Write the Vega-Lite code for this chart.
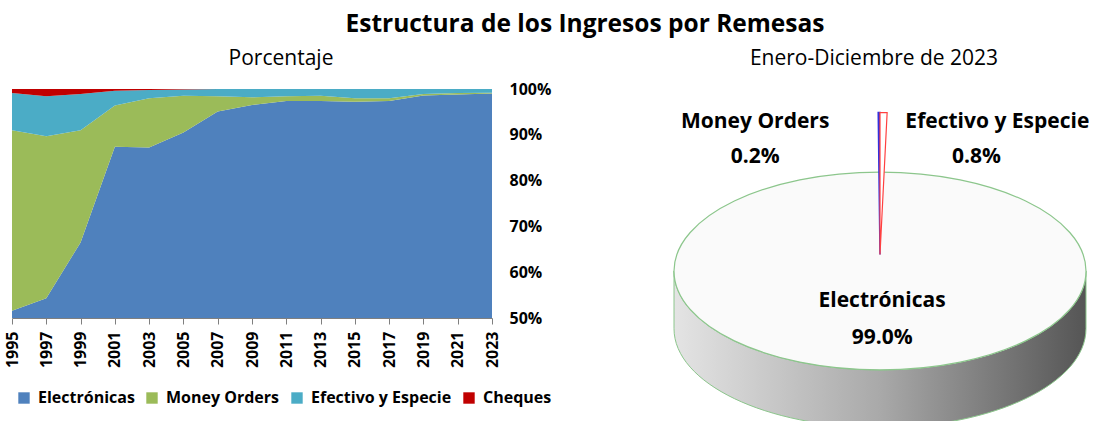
{
  "$schema": "https://vega.github.io/schema/vega-lite/v6.json",
  "background": "white",
  "padding": {"left": 4, "top": 11, "right": 4, "bottom": 0},
  "config": {"font": "Open Sans", "view": {"stroke": null}},
  "title": {"text": "Estructura de los Ingresos por Remesas", "fontSize": 24.5, "fontWeight": "bold", "color": "black", "anchor": "middle", "dx": 38, "offset": 11},
  "spacing": 114,
  "resolve": {"scale": {"color": "independent"}, "legend": {"color": "independent"}},
  "datasets": {
    "serie": [
      {"anio": 1995, "tipo": "Electrónicas", "pct": 51.6}, {"anio": 1995, "tipo": "Money Orders", "pct": 39.4}, {"anio": 1995, "tipo": "Efectivo y Especie", "pct": 8.1}, {"anio": 1995, "tipo": "Cheques", "pct": 0.9},
      {"anio": 1997, "tipo": "Electrónicas", "pct": 54.3}, {"anio": 1997, "tipo": "Money Orders", "pct": 35.4}, {"anio": 1997, "tipo": "Efectivo y Especie", "pct": 8.7}, {"anio": 1997, "tipo": "Cheques", "pct": 1.6},
      {"anio": 1999, "tipo": "Electrónicas", "pct": 66.5}, {"anio": 1999, "tipo": "Money Orders", "pct": 24.5}, {"anio": 1999, "tipo": "Efectivo y Especie", "pct": 7.9}, {"anio": 1999, "tipo": "Cheques", "pct": 1.1},
      {"anio": 2001, "tipo": "Electrónicas", "pct": 87.4}, {"anio": 2001, "tipo": "Money Orders", "pct": 9.0}, {"anio": 2001, "tipo": "Efectivo y Especie", "pct": 3.2}, {"anio": 2001, "tipo": "Cheques", "pct": 0.4},
      {"anio": 2003, "tipo": "Electrónicas", "pct": 87.2}, {"anio": 2003, "tipo": "Money Orders", "pct": 10.8}, {"anio": 2003, "tipo": "Efectivo y Especie", "pct": 1.8}, {"anio": 2003, "tipo": "Cheques", "pct": 0.2},
      {"anio": 2005, "tipo": "Electrónicas", "pct": 90.5}, {"anio": 2005, "tipo": "Money Orders", "pct": 8.0}, {"anio": 2005, "tipo": "Efectivo y Especie", "pct": 1.4}, {"anio": 2005, "tipo": "Cheques", "pct": 0.1},
      {"anio": 2007, "tipo": "Electrónicas", "pct": 95.1}, {"anio": 2007, "tipo": "Money Orders", "pct": 3.3}, {"anio": 2007, "tipo": "Efectivo y Especie", "pct": 1.6}, {"anio": 2007, "tipo": "Cheques", "pct": 0.0},
      {"anio": 2009, "tipo": "Electrónicas", "pct": 96.5}, {"anio": 2009, "tipo": "Money Orders", "pct": 1.7}, {"anio": 2009, "tipo": "Efectivo y Especie", "pct": 1.8}, {"anio": 2009, "tipo": "Cheques", "pct": 0.0},
      {"anio": 2011, "tipo": "Electrónicas", "pct": 97.4}, {"anio": 2011, "tipo": "Money Orders", "pct": 1.0}, {"anio": 2011, "tipo": "Efectivo y Especie", "pct": 1.6}, {"anio": 2011, "tipo": "Cheques", "pct": 0.0},
      {"anio": 2013, "tipo": "Electrónicas", "pct": 97.4}, {"anio": 2013, "tipo": "Money Orders", "pct": 1.1}, {"anio": 2013, "tipo": "Efectivo y Especie", "pct": 1.5}, {"anio": 2013, "tipo": "Cheques", "pct": 0.0},
      {"anio": 2015, "tipo": "Electrónicas", "pct": 97.2}, {"anio": 2015, "tipo": "Money Orders", "pct": 0.8}, {"anio": 2015, "tipo": "Efectivo y Especie", "pct": 2.0}, {"anio": 2015, "tipo": "Cheques", "pct": 0.0},
      {"anio": 2017, "tipo": "Electrónicas", "pct": 97.4}, {"anio": 2017, "tipo": "Money Orders", "pct": 0.6}, {"anio": 2017, "tipo": "Efectivo y Especie", "pct": 2.0}, {"anio": 2017, "tipo": "Cheques", "pct": 0.0},
      {"anio": 2019, "tipo": "Electrónicas", "pct": 98.6}, {"anio": 2019, "tipo": "Money Orders", "pct": 0.3}, {"anio": 2019, "tipo": "Efectivo y Especie", "pct": 1.1}, {"anio": 2019, "tipo": "Cheques", "pct": 0.0},
      {"anio": 2021, "tipo": "Electrónicas", "pct": 98.8}, {"anio": 2021, "tipo": "Money Orders", "pct": 0.3}, {"anio": 2021, "tipo": "Efectivo y Especie", "pct": 0.9}, {"anio": 2021, "tipo": "Cheques", "pct": 0.0},
      {"anio": 2023, "tipo": "Electrónicas", "pct": 99.0}, {"anio": 2023, "tipo": "Money Orders", "pct": 0.2}, {"anio": 2023, "tipo": "Efectivo y Especie", "pct": 0.8}, {"anio": 2023, "tipo": "Cheques", "pct": 0.0}
    ],
    "pie": [
      {"tipo": "Electrónicas", "valor": 99.0},
      {"tipo": "Money Orders", "valor": 0.2},
      {"tipo": "Efectivo y Especie", "valor": 0.8}
    ]
  },
  "hconcat": [
    {
      "width": 480,
      "height": 229,
      "title": {"text": "Porcentaje", "fontSize": 21, "fontWeight": "normal", "color": "black", "offset": 12, "dx": 29},
      "data": {"name": "serie"},
      "transform": [
        {"calculate": "indexof(['Electrónicas','Money Orders','Efectivo y Especie','Cheques'], datum.tipo)", "as": "orden"}
      ],
      "mark": {"type": "area", "clip": true, "interpolate": "linear"},
      "encoding": {
        "x": {"field": "anio", "type": "quantitative",
          "scale": {"domain": [1995, 2023], "nice": false, "zero": false},
          "axis": {"values": [1995,1997,1999,2001,2003,2005,2007,2009,2011,2013,2015,2017,2019,2021,2023], "format": "d", "labelAngle": -90, "labelFontSize": 16, "labelFontWeight": "bold", "labelColor": "black", "title": null, "grid": false, "domainColor": "#7f7f7f", "tickColor": "#7f7f7f", "tickSize": 6, "labelPadding": 7}},
        "y": {"field": "pct", "type": "quantitative", "stack": "zero",
          "scale": {"domain": [50, 100]},
          "axis": {"orient": "right", "values": [50,60,70,80,90,100], "labelExpr": "datum.value + '%'", "domain": false, "ticks": false, "grid": false, "labelFontSize": 16, "labelFontWeight": "bold", "labelColor": "black", "title": null, "labelPadding": 17}},
        "color": {"field": "tipo", "type": "nominal",
          "scale": {"domain": ["Electrónicas", "Money Orders", "Efectivo y Especie", "Cheques"], "range": ["#4f81bd", "#9bbb59", "#4bacc6", "#c00000"]},
          "legend": {"orient": "bottom", "direction": "horizontal", "title": null, "symbolType": "square", "symbolSize": 130, "symbolStrokeWidth": 0, "symbolOpacity": 1, "labelFontSize": 16, "labelFontWeight": "bold", "labelColor": "black", "columnPadding": 9, "labelOffset": 6, "offset": 18, "padding": 4}},
        "order": {"field": "orden", "type": "quantitative"}
      }
    },
    {
      "width": 420,
      "height": 331,
      "title": {"text": "Enero-Diciembre de 2023", "fontSize": 21, "fontWeight": "normal", "color": "black", "offset": 20, "dx": -6},
      "data": {"name": "pie"},
      "transform": [
        {"stack": "valor", "groupby": [], "as": ["a0", "a1"], "sort": [{"field": "tipo", "order": "ascending"}]},
        {"calculate": "(datum.a0 + datum.a1) / 2", "as": "am"},
        {"calculate": "format(datum.valor, '.1f') + '%'", "as": "porc"},
        {"calculate": "[datum.tipo, datum.porc]", "as": "etiqueta"}
      ],
      "layer": [
        {
          "transform": [{"filter": "datum.tipo === 'Electrónicas'"}],
          "mark": {"type": "point", "shape": "M -1 0.08 L -1 0.36 A 1 0.48 0 0 0 1 0.36 L 1 0.08 A 1 0.48 0 0 1 -1 0.08 Z", "size": 169744, "filled": true, "opacity": 1,
            "fill": {"gradient": "linear", "x1": 0, "y1": 0, "x2": 1, "y2": 0, "stops": [{"offset": 0, "color": "#e4e4e4"}, {"offset": 0.5, "color": "#a9a9a9"}, {"offset": 1, "color": "#555555"}]},
            "stroke": "#8cc68c", "strokeWidth": 1},
          "encoding": {}
        },
        {
          "transform": [{"filter": "datum.tipo === 'Electrónicas'"}],
          "mark": {"type": "point", "shape": "M -1 0.08 A 1 0.48 0 1 1 1 0.08 A 1 0.48 0 1 1 -1 0.08 Z", "size": 169744, "filled": true, "opacity": 1, "fill": "#fafafa", "stroke": "#8cc68c", "strokeWidth": 1.2},
          "encoding": {}
        },
        {
          "transform": [{"filter": "datum.tipo === 'Money Orders'"}],
          "mark": {"type": "arc", "radius": 142, "fill": "#4a4a70", "stroke": "#3030e0", "strokeWidth": 1.5},
          "encoding": {
            "theta": {"field": "a0", "type": "quantitative", "scale": {"domain": [0, 100]}},
            "theta2": {"field": "a1"}
          }
        },
        {
          "transform": [{"filter": "datum.tipo === 'Efectivo y Especie'"}],
          "mark": {"type": "arc", "radius": 142, "fill": "#ffffff", "stroke": "#ff4040", "strokeWidth": 1.2},
          "encoding": {
            "theta": {"field": "a0", "type": "quantitative", "scale": {"domain": [0, 100]}},
            "theta2": {"field": "a1"}
          }
        },
        {
          "transform": [{"filter": "datum.tipo === 'Money Orders'"}],
          "mark": {"type": "text", "radius": 133, "dx": -124, "fontSize": 21, "fontWeight": "bold", "lineHeight": 35, "baseline": "middle", "align": "center", "color": "black"},
          "encoding": {
            "theta": {"field": "am", "type": "quantitative", "scale": {"domain": [0, 100]}},
            "text": {"field": "etiqueta"}
          }
        },
        {
          "transform": [{"filter": "datum.tipo === 'Efectivo y Especie'"}],
          "mark": {"type": "text", "radius": 133, "dx": 114, "fontSize": 21, "fontWeight": "bold", "baseline": "middle", "align": "center", "color": "black"},
          "encoding": {
            "theta": {"field": "am", "type": "quantitative", "scale": {"domain": [0, 100]}},
            "text": {"field": "tipo"}
          }
        },
        {
          "transform": [{"filter": "datum.tipo === 'Efectivo y Especie'"}],
          "mark": {"type": "text", "radius": 133, "dx": 93, "dy": 35, "fontSize": 21, "fontWeight": "bold", "baseline": "middle", "align": "center", "color": "black"},
          "encoding": {
            "theta": {"field": "am", "type": "quantitative", "scale": {"domain": [0, 100]}},
            "text": {"field": "porc"}
          }
        },
        {
          "transform": [{"filter": "datum.tipo === 'Electrónicas'"}],
          "mark": {"type": "text", "radius": 47, "dx": 3, "fontSize": 21, "fontWeight": "bold", "lineHeight": 37, "baseline": "middle", "align": "center", "color": "black"},
          "encoding": {
            "theta": {"field": "am", "type": "quantitative", "scale": {"domain": [0, 100]}},
            "text": {"field": "etiqueta"}
          }
        }
      ]
    }
  ]
}
